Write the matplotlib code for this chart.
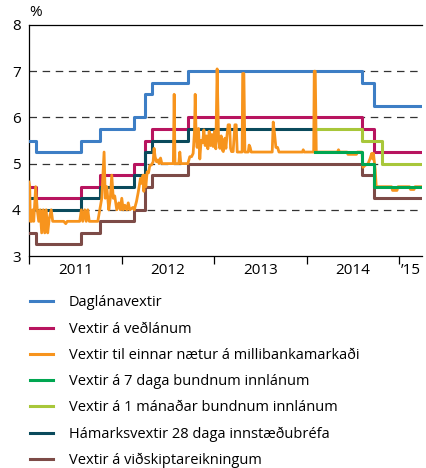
import matplotlib
matplotlib.use("Agg")
import matplotlib.pyplot as plt
from matplotlib.ticker import FixedLocator, NullFormatter, FixedFormatter
from matplotlib.lines import Line2D

plt.rcParams['font.family'] = ['Open Sans', 'DejaVu Sans']

# ---- data (x in fractional years) ----
step_dates = [2011.0, 2011.08, 2011.566, 2011.764, 2012.135, 2012.257, 2012.326,
              2012.72, 2014.60, 2014.73, 2015.245]
daglan = [5.5, 5.25, 5.5, 5.75, 6.0, 6.5, 6.75, 7.0, 6.75, 6.25, 6.25]
vedlan = [4.5, 4.25, 4.5, 4.75, 5.0, 5.5, 5.75, 6.0, 5.75, 5.25, 5.25]
vidskipta = [3.5, 3.25, 3.5, 3.75, 4.0, 4.5, 4.75, 5.0, 4.75, 4.25, 4.25]

hamark_dates = [2011.0, 2011.08, 2011.566, 2011.764, 2012.135, 2012.257, 2012.326,
                2012.72, 2014.07]
hamark = [4.25, 4.0, 4.25, 4.5, 4.75, 5.25, 5.5, 5.75, 5.75]

d7_dates = [2014.09, 2014.60, 2014.73, 2015.245]
d7 = [5.25, 5.0, 4.5, 4.5]

m1_dates = [2014.125, 2014.60, 2014.81, 2015.245]
m1 = [5.75, 5.5, 5.0, 5.0]

overnight_dates = [
    2011.000, 2011.008, 2011.014, 2011.029, 2011.040, 2011.051, 2011.072, 2011.089,
    2011.105, 2011.121, 2011.137, 2011.154, 2011.170, 2011.186, 2011.202, 2011.218,
    2011.240, 2011.256, 2011.375, 2011.397, 2011.413, 2011.548, 2011.566, 2011.581,
    2011.602, 2011.618, 2011.635, 2011.651, 2011.743, 2011.764, 2011.786, 2011.811,
    2011.824, 2011.840, 2011.862, 2011.878, 2011.894, 2011.910, 2011.926, 2011.948,
    2011.970, 2011.986, 2012.002, 2012.018, 2012.035, 2012.056, 2012.072, 2012.089,
    2012.121, 2012.137, 2012.161, 2012.178, 2012.189, 2012.204, 2012.218, 2012.232,
    2012.240, 2012.251, 2012.262, 2012.276, 2012.291, 2012.305, 2012.323, 2012.341,
    2012.351, 2012.362, 2012.377, 2012.395, 2012.405, 2012.421, 2012.435, 2012.559,
    2012.568, 2012.577, 2012.618, 2012.629, 2012.640, 2012.716, 2012.737, 2012.756,
    2012.773, 2012.788, 2012.795, 2012.805, 2012.816, 2012.831, 2012.845, 2012.859,
    2012.875, 2012.889, 2012.903, 2012.918, 2012.932, 2012.946, 2012.961, 2012.975,
    2012.989, 2013.004, 2013.018, 2013.032, 2013.048, 2013.062, 2013.076, 2013.089,
    2013.099, 2013.116, 2013.127, 2013.137, 2013.151, 2013.167, 2013.177, 2013.188,
    2013.205, 2013.216, 2013.224, 2013.238, 2013.249, 2013.302, 2013.308, 2013.321,
    2013.332, 2013.368, 2013.378, 2013.389, 2013.400, 2013.627, 2013.638, 2013.653,
    2013.667, 2013.685, 2013.700, 2013.954, 2013.962, 2013.973, 2014.075, 2014.081,
    2014.092, 2014.103, 2014.332, 2014.343, 2014.354, 2014.435, 2014.445, 2014.537,
    2014.548, 2014.597, 2014.608, 2014.629, 2014.662, 2014.683, 2014.702, 2014.713,
    2014.721, 2014.730, 2014.740, 2014.751, 2014.916, 2014.927, 2014.975, 2014.986,
    2015.110, 2015.121, 2015.159, 2015.170, 2015.235]
overnight = [
    4.6, 4.5, 3.75, 3.75, 4.0, 3.75, 4.5, 4.0,
    3.75, 4.0, 3.5, 4.0, 3.5, 4.0, 3.5, 3.8,
    4.0, 3.75, 3.75, 3.7, 3.75, 3.75, 4.0, 3.75,
    4.0, 3.75, 4.0, 3.75, 3.75, 4.0, 4.25, 5.25,
    4.25, 4.5, 4.0, 4.25, 4.75, 4.25, 4.3, 4.0,
    4.15, 4.0, 4.25, 4.0, 4.1, 4.0, 4.15, 4.0,
    4.05, 4.0, 4.18, 4.36, 4.5, 4.68, 4.57, 4.75,
    4.4, 4.75, 4.5, 4.82, 4.8, 4.96, 4.97, 5.04,
    5.33, 5.15, 5.04, 5.08, 5.0, 5.12, 5.0, 5.0,
    6.5, 5.0, 5.0, 5.25, 5.0, 5.0, 5.15, 5.15,
    5.22, 5.72, 6.5, 5.6, 5.35, 5.76, 5.1, 5.5,
    5.45, 5.73, 5.39, 5.6, 5.32, 5.7, 5.39, 5.63,
    5.37, 5.7, 5.32, 7.05, 5.5, 5.33, 5.6, 5.29,
    5.26, 5.55, 5.33, 5.58, 5.84, 5.84, 5.33, 5.26,
    5.26, 5.58, 5.84, 5.84, 5.25, 5.25, 6.95, 6.95,
    5.25, 5.25, 5.4, 5.35, 5.25, 5.25, 5.9, 5.63,
    5.35, 5.35, 5.25, 5.25, 5.3, 5.25, 5.25, 7.0,
    7.0, 5.25, 5.25, 5.3, 5.25, 5.25, 5.2, 5.2,
    5.25, 5.25, 4.92, 4.96, 5.0, 5.1, 5.22, 5.1,
    5.22, 5.05, 4.85, 4.5, 4.5, 4.42, 4.42, 4.5,
    4.5, 4.44, 4.44, 4.5, 4.5]

labels = ['Daglánavextir', 'Vextir á veðlánum',
          'Vextir til einnar nætur á millibankamarkaði',
          'Vextir á 7 daga bundnum innlánum',
          'Vextir á 1 mánaðar bundnum innlánum',
          'Hámarksvextir 28 daga innstæðubréfa',
          'Vextir á viðskiptareikningum']
colors = ['#3d7ec5', '#b8145f', '#f7941d', '#00a651', '#a8c73a', '#0a4a5c', '#7d4b47']

year_ticks = [2011, 2012, 2013, 2014, 2015]
year_label_pos = [2011.5, 2012.5, 2013.5, 2014.5, 2015.12]
year_labels = ['2011', '2012', '2013', '2014', '\u201915']
y_ticks = [3, 4, 5, 6, 7, 8]
grid_levels = [4, 5, 6, 7]

# ---- figure ----
W, H = 426, 468
fig = plt.figure(figsize=(W / 100, H / 100), dpi=100)
ax = fig.add_axes([29 / W, 1 - 256 / H, (422 - 29) / W, (256 - 25) / H])

lw = 2.2
ax.step(step_dates, daglan, where='post', color=colors[0], lw=lw, zorder=3)
ax.step(step_dates, vedlan, where='post', color=colors[1], lw=lw, zorder=3)
ax.step(hamark_dates, hamark, where='post', color=colors[5], lw=lw, zorder=3)
ax.step(step_dates, vidskipta, where='post', color=colors[6], lw=lw, zorder=3)
ax.plot(overnight_dates, overnight, color=colors[2], lw=2.0, zorder=4)
ax.step(m1_dates, m1, where='post', color=colors[4], lw=lw, zorder=5)
ax.step(d7_dates, d7, where='post', color=colors[3], lw=lw, zorder=5)

for g in grid_levels:
    ax.axhline(g, color='#333333', lw=0.9, dashes=(6, 4.5), zorder=1)

ax.set_xlim(2011.0, 2015.245)
ax.set_ylim(3, 8)

ax.spines['right'].set_visible(False)
for s in ['left', 'top', 'bottom']:
    ax.spines[s].set_linewidth(0.9)

ax.set_yticks(y_ticks)
ax.tick_params(axis='y', length=0, pad=6, labelsize=11)

ax.xaxis.set_major_locator(FixedLocator(year_ticks))
ax.xaxis.set_major_formatter(NullFormatter())
ax.xaxis.set_minor_locator(FixedLocator(year_label_pos))
ax.xaxis.set_minor_formatter(FixedFormatter(year_labels))
ax.tick_params(axis='x', which='major', length=6, width=0.9, direction='out')
ax.tick_params(axis='x', which='minor', length=0, pad=5, labelsize=11)

ax.text(0.0, 1.02, '%', transform=ax.transAxes, ha='left', va='bottom', fontsize=11)

handles = [Line2D([], [], color=c, lw=2.2) for c in colors]
fig.legend(handles, labels, loc='upper left', bbox_to_anchor=(30 / W, 1 - 295.5 / H),
           frameon=False, fontsize=10.5, handlelength=1.58, handletextpad=1.1,
           labelspacing=0.77, borderpad=0, borderaxespad=0)

fig.savefig('out.png', dpi=100)
